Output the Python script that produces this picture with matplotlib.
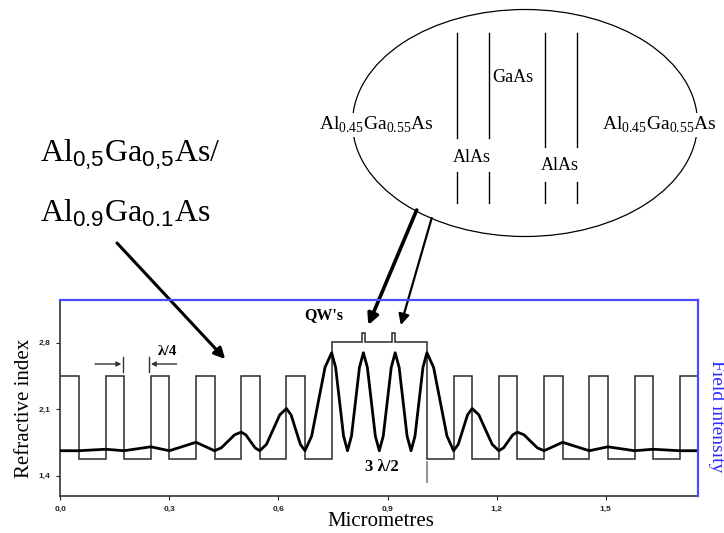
import matplotlib
matplotlib.use('Agg')
import matplotlib.pyplot as plt
from matplotlib.patches import Ellipse
from matplotlib.lines import Line2D
from matplotlib.ticker import FuncFormatter

plt.rcParams['font.family'] = ['Liberation Serif', 'DejaVu Serif']
plt.rcParams['mathtext.fontset'] = 'custom'
plt.rcParams['mathtext.rm'] = 'Liberation Serif'
plt.rcParams['mathtext.sf'] = 'Liberation Sans'

# refractive index profile: layer edges (um) and index of each layer
index_edges = [0.0, 0.051, 0.1244, 0.1754, 0.2488, 0.2998, 0.3732, 0.4242, 0.4976,
               0.5486, 0.622, 0.673, 0.7464,
               0.829, 0.838, 0.912, 0.921, 1.0084,
               1.0818, 1.1328, 1.2062, 1.2572, 1.3306, 1.3816, 1.455, 1.506,
               1.5794, 1.6304, 1.7038, 1.754]
index_vals = [2.45, 1.58, 2.45, 1.58, 2.45, 1.58, 2.45, 1.58, 2.45, 1.58, 2.45, 1.58,
              2.81, 2.905, 2.81, 2.905, 2.81,
              1.58, 2.45, 1.58, 2.45, 1.58, 2.45, 1.58, 2.45, 1.58, 2.45, 1.58, 2.45]

# field intensity (arb. units)
field_x = [0.0, 0.051, 0.1244, 0.1754, 0.2488, 0.2998, 0.3365, 0.3732, 0.3987, 0.4242,
           0.4426, 0.4609, 0.4793, 0.4976, 0.5104, 0.5231, 0.5359, 0.5486,
           0.5670, 0.5853, 0.6037, 0.622, 0.6348, 0.6475, 0.6603, 0.673,
           0.6914, 0.7097, 0.7281, 0.7464, 0.7573, 0.7682, 0.7791, 0.790,
           0.8009, 0.8119, 0.8228, 0.8337, 0.8446, 0.8556, 0.8665, 0.8774,
           0.8883, 0.8993, 0.9102, 0.9211, 0.9320, 0.9429, 0.9538, 0.9647,
           0.9756, 0.9866, 0.9975, 1.0084, 1.0268, 1.0451, 1.0635, 1.0818,
           1.0946, 1.1073, 1.1201, 1.1328, 1.1512, 1.1695, 1.1879, 1.2062,
           1.2190, 1.2317, 1.2445, 1.2572, 1.2756, 1.2939, 1.3123, 1.3306,
           1.3561, 1.3816, 1.4183, 1.455, 1.506, 1.5794, 1.6304, 1.7038, 1.754]
field_y = [0.0, 0.0, 0.015, 0.0, 0.04, 0.0, 0.043, 0.086, 0.043, 0.0,
           0.029, 0.095, 0.162, 0.19, 0.162, 0.095, 0.029, 0.0,
           0.065, 0.215, 0.366, 0.43, 0.366, 0.215, 0.065, 0.0,
           0.15, 0.5, 0.85, 1.0, 0.85, 0.5, 0.15, 0.0,
           0.15, 0.5, 0.85, 1.0, 0.85, 0.5, 0.15, 0.0,
           0.15, 0.5, 0.85, 1.0, 0.85, 0.5, 0.15, 0.0,
           0.15, 0.5, 0.85, 1.0, 0.85, 0.5, 0.15, 0.0,
           0.065, 0.215, 0.366, 0.43, 0.366, 0.215, 0.065, 0.0,
           0.029, 0.095, 0.162, 0.19, 0.162, 0.095, 0.029, 0.0,
           0.043, 0.086, 0.043, 0.0, 0.04, 0.0, 0.015, 0.0, 0.0]

x_ticks = [0.0, 0.3, 0.6, 0.9, 1.2, 1.5]
y_ticks = [1.4, 2.1, 2.8]

W, H = 724, 533
fig = plt.figure(figsize=(W / 100, H / 100), dpi=100)


def fp(x, y):
    # pixel position (from top-left) -> figure fraction
    return (x / W, 1 - y / H)


ax = fig.add_axes([60.3 / W, 1 - 496 / H, (698 - 60.3) / W, 196 / H])
ax.stairs(index_vals, index_edges, baseline=None, color='#2a2a2a', lw=1.1)
ax.set_xlim(0, 1.754)
ax.set_ylim(1.186, 3.25)
ax.set_xticks(x_ticks)
ax.set_yticks(y_ticks)
comma = FuncFormatter(lambda v, p: ('%.1f' % v).replace('.', ','))
ax.xaxis.set_major_formatter(comma)
ax.yaxis.set_major_formatter(comma)
ax.tick_params(direction='out', length=3, width=0.8, labelsize=6, pad=4, colors='#222222')
for lab in ax.get_xticklabels() + ax.get_yticklabels():
    lab.set_fontweight('bold')
    lab.set_family('Liberation Sans')
ax.spines['top'].set_visible(False)
ax.spines['right'].set_visible(False)
for s in ('left', 'bottom'):
    ax.spines[s].set_color('#333333')
    ax.spines[s].set_linewidth(1.2)

ax2 = ax.twinx()
ax2.plot(field_x, field_y, color='black', lw=2.0, solid_joinstyle='round')
ax2.set_ylim(-0.462, 1.538)
ax2.set_yticks([])
ax2.spines['left'].set_visible(False)
ax2.spines['bottom'].set_visible(False)
for s in ('top', 'right'):
    ax2.spines[s].set_color('#4a4aff')
    ax2.spines[s].set_linewidth(1.6)

# annotations inside the plot
ax.text(0.7235, 3.092, "QW's", fontsize=11.5, fontweight='bold', ha='center', va='center')
ax.text(0.294, 2.705, 'λ/4', fontsize=11, fontweight='bold', ha='center', va='center')
ax.text(0.885, 1.49, '3 λ/2', fontsize=12, fontweight='bold', ha='center', va='center')
ax.plot([1.0084, 1.0084], [1.54, 1.334], color='#888888', lw=1.3)
ax.plot([0.1733, 0.1733], [2.495, 2.653], color='#333333', lw=1.0)
ax.plot([0.244, 0.244], [2.495, 2.653], color='#333333', lw=1.0)
arr_small = dict(arrowstyle='-|>', lw=1.0, color='#333333', mutation_scale=7, shrinkA=0, shrinkB=0)
ax.annotate('', xy=(0.168, 2.576), xytext=(0.0955, 2.576), arrowprops=arr_small)
ax.annotate('', xy=(0.249, 2.576), xytext=(0.320, 2.576), arrowprops=arr_small)

# axis labels
fig.text(*fp(25, 408), 'Refractive index', rotation=90, fontsize=15, ha='center', va='center')
fig.text(*fp(381, 526), 'Micrometres', fontsize=15, ha='center', va='baseline')
fig.text(*fp(716, 416), 'Field intensity', rotation=270, fontsize=14, color='#2b2bff',
         ha='center', va='center')

# layer composition text
fig.text(40 / W, 1 - 161.7 / H, r'$\mathrm{Al}_{\mathsf{0{,}5}}\mathrm{Ga}_{\mathsf{0{,}5}}\mathrm{As/}$',
         fontsize=23, ha='left', va='baseline')
fig.text(40 / W, 1 - 221.7 / H, r'$\mathrm{Al}_{\mathsf{0.9}}\mathrm{Ga}_{\mathsf{0.1}}\mathrm{As}$',
         fontsize=23, ha='left', va='baseline')

# ellipse with the cavity structure
ell = Ellipse(fp(525, 123), 345 / W, 227 / H, transform=fig.transFigure,
              fill=False, ec='black', lw=0.9)
fig.add_artist(ell)
qw_lines_x = [456.7, 489.3, 545, 577.3]
qw_upper_end = [138.3, 138.3, 146.7, 146.7]
qw_lower_start = [171.7, 171.7, 181.7, 181.7]
for xl, ye, ys in zip(qw_lines_x, qw_upper_end, qw_lower_start):
    fig.add_artist(Line2D([xl / W, xl / W], [1 - 33.3 / H, 1 - ye / H],
                          transform=fig.transFigure, color='black', lw=1.0))
    fig.add_artist(Line2D([xl / W, xl / W], [1 - ys / H, 1 - 203.3 / H],
                          transform=fig.transFigure, color='black', lw=1.0))

box = dict(facecolor='white', edgecolor='none', pad=1)
fig.text(*fp(513, 77), 'GaAs', fontsize=13, ha='center', va='center')
fig.text(*fp(471.7, 158), 'AlAs', fontsize=13, ha='center', va='center')
fig.text(*fp(560, 166), 'AlAs', fontsize=13, ha='center', va='center')
fig.text(*fp(376, 125), r'$\mathrm{Al}_{\mathrm{0.45}}\mathrm{Ga}_{\mathrm{0.55}}\mathrm{As}$',
         fontsize=14, ha='center', va='center', bbox=box)
fig.text(*fp(659, 125), r'$\mathrm{Al}_{\mathrm{0.45}}\mathrm{Ga}_{\mathrm{0.55}}\mathrm{As}$',
         fontsize=14, ha='center', va='center', bbox=box)

# arrows pointing into the plot
arr_big = dict(arrowstyle='-|>', lw=2.2, color='black', mutation_scale=16, shrinkA=0, shrinkB=0)
ax.annotate('', xy=(0.4535, 2.628), xycoords='data', xytext=fp(117, 243),
            textcoords='figure fraction', arrowprops=arr_big, annotation_clip=False)
ax.annotate('', xy=(0.847, 2.986), xycoords='data', xytext=fp(416.7, 210),
            textcoords='figure fraction', arrowprops=dict(arr_big, lw=2.6), annotation_clip=False)
ax.annotate('', xy=(0.9365, 2.986), xycoords='data', xytext=fp(431.7, 218),
            textcoords='figure fraction', arrowprops=dict(arr_big, lw=1.6), annotation_clip=False)

fig.savefig('out.png', dpi=100)
